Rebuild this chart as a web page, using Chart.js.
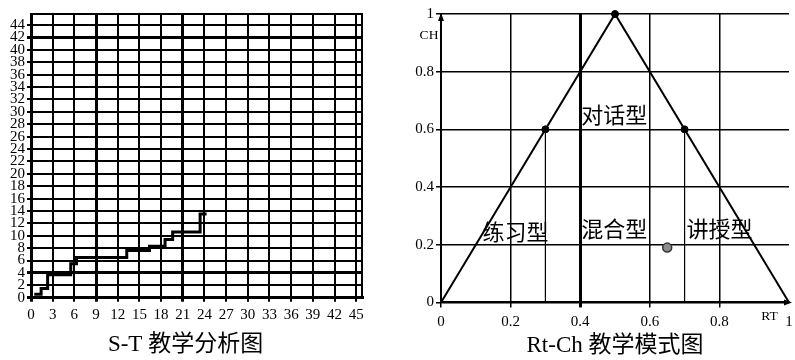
<!DOCTYPE html>
<html><head><meta charset="utf-8">
<script src="https://cdn.jsdelivr.net/npm/chart.js@4/dist/chart.umd.min.js"></script>
<style>
html,body{margin:0;padding:0;background:#fff;}
#wrap{position:relative;width:795px;height:360px;overflow:hidden;}
#c1{position:absolute;left:0;top:0;}
#c2{position:absolute;left:395px;top:0;}
</style></head><body>
<div id="wrap">
<canvas id="c1" width="395" height="360"></canvas>
<canvas id="c2" width="400" height="360"></canvas>
</div>
<script>
// ---- S-T chart data ----
const stT = [0.45, 1.4, 2.3, 5.5, 6.3, 13.25, 16.4, 18.55, 19.6, 23.4, 24.3];
const stS = [0.55, 1.5, 3.7, 5.5, 6.5, 7.6, 8.3, 9.4, 10.6, 13.5, 13.5];
const stXTicks = [0, 3, 6, 9, 12, 15, 18, 21, 24, 27, 30, 33, 36, 39, 42, 45];
const stYTicks = [0, 2, 4, 6, 8, 10, 12, 14, 16, 18, 20, 22, 24, 26, 28, 30, 32, 34, 36, 38, 40, 42, 44];
const stXThick = [0, 9, 21];
const stYThick = [0, 4, 42];
const stTitle = 'S-T 教学分析图';

// ---- Rt-Ch chart data ----
const triRt = [0, 0.5, 1];
const triCh = [0, 1, 0];
const vertRt = [0.3, 0.5, 0.7];
const vertCh = [0.6, 1, 0.6];
const dropRt = [0.3, 0.7];
const dropCh = [0.6, 0.6];
const obsRt = [0.65];
const obsCh = [0.19];
const rcTicks = [0, 0.2, 0.4, 0.6, 0.8, 1];
const modeNames = ['对话型', '练习型', '混合型', '讲授型'];
const modeRt = [0.498, 0.214, 0.498, 0.80];
const modeCh = [0.65, 0.245, 0.255, 0.255];
const rcTitle = 'Rt-Ch 教学模式图';

Chart.defaults.font.family = "'Liberation Serif','Noto Sans CJK SC',serif";
Chart.defaults.color = '#000';
Chart.defaults.animation = false;

const frame = {
  id: 'frame',
  beforeDatasetsDraw(chart) {
    const a = chart.chartArea, ctx = chart.ctx;
    ctx.save();
    ctx.strokeStyle = '#000';
    ctx.lineWidth = 2;
    ctx.strokeRect(a.left, a.top, a.right - a.left, a.bottom - a.top);
    ctx.restore();
  }
};

new Chart(document.getElementById('c1'), {
  type: 'line',
  data: {
    datasets: [{
      data: stT.map((x, i) => ({x, y: stS[i]})),
      stepped: 'before',
      borderColor: '#000',
      borderWidth: 3,
      pointRadius: 0,
      fill: false
    }]
  },
  options: {
    responsive: false,
    devicePixelRatio: 1,
    layout: {padding: {left: 9, top: 14, right: 33, bottom: 1.7}},
    plugins: {
      legend: {display: false},
      tooltip: {enabled: false},
      title: {display: true, text: stTitle, position: 'bottom', color: '#000',
        font: {size: 23, weight: 'normal', lineHeight: 1.2}, padding: 0}
    },
    scales: {
      x: {
        type: 'linear', min: 0, max: 45.8,
        afterBuildTicks: s => { s.ticks = stXTicks.map(v => ({value: v})); },
        afterFit: s => { s.height = 33; },
        ticks: {autoSkip: false, maxRotation: 0, padding: 4, font: {size: 15}, color: '#000'},
        grid: {color: '#000', tickLength: 4,
          lineWidth: c => (c.tick && stXThick.includes(c.tick.value)) ? 3 : 2},
        border: {display: true, color: '#000', width: 3}
      },
      y: {
        type: 'linear', min: 0, max: 45.8,
        afterBuildTicks: s => { s.ticks = stYTicks.map(v => ({value: v})); },
        afterFit: s => { s.width = 22; },
        ticks: {autoSkip: false, padding: 2, font: {size: 15}, color: '#000'},
        grid: {color: '#000', tickLength: 4,
          lineWidth: c => (c.tick && stYThick.includes(c.tick.value)) ? 3 : 2},
        border: {display: true, color: '#000', width: 3}
      }
    }
  },
  plugins: [frame]
});

const rcDeco = {
  id: 'rcDeco',
  afterDraw(chart) {
    const ctx = chart.ctx, a = chart.chartArea;
    const xs = chart.scales.x, ys = chart.scales.y;
    ctx.save();
    ctx.fillStyle = '#000';
    // arrows
    const x0 = xs.getPixelForValue(0), y1 = ys.getPixelForValue(1);
    ctx.beginPath();
    ctx.moveTo(x0, y1 - 1); ctx.lineTo(x0 - 3, y1 + 7); ctx.lineTo(x0 + 3, y1 + 7); ctx.closePath(); ctx.fill();
    const xe = xs.getPixelForValue(1), y0 = ys.getPixelForValue(0);
    ctx.beginPath();
    ctx.moveTo(xe + 3, y0); ctx.lineTo(xe - 5, y0 - 3); ctx.lineTo(xe - 5, y0 + 3); ctx.closePath(); ctx.fill();
    // axis names
    ctx.font = "13.5px 'Liberation Serif'";
    ctx.textAlign = 'center'; ctx.textBaseline = 'middle';
    ctx.fillText('CH', a.left - 12, a.top + 21);
    ctx.fillText('RT', a.right - 19.5, a.bottom + 14);
    // region names
    ctx.font = "22px 'Noto Sans CJK SC'";
    modeNames.forEach((n, i) => {
      ctx.fillText(n, xs.getPixelForValue(modeRt[i]), ys.getPixelForValue(modeCh[i]));
    });
    ctx.restore();
  }
};

const rcDatasets = [
  {data: triRt.map((x, i) => ({x, y: triCh[i]})), borderColor: '#000', borderWidth: 2, pointRadius: 0, showLine: true, clip: false},
];
dropRt.forEach((x, i) => rcDatasets.push({
  data: [{x, y: 0}, {x, y: dropCh[i]}], borderColor: '#000', borderWidth: 1.2, pointRadius: 0, showLine: true
}));
rcDatasets.push({data: vertRt.map((x, i) => ({x, y: vertCh[i]})), showLine: false,
  pointRadius: 3.5, pointBackgroundColor: '#000', pointBorderColor: '#000', clip: false});
rcDatasets.push({data: obsRt.map((x, i) => ({x, y: obsCh[i]})), showLine: false,
  pointRadius: 4.5, pointBackgroundColor: '#8c8c8c', pointBorderColor: '#333', pointBorderWidth: 1.5, clip: false});

const fmt = v => String(Math.round(v * 10) / 10);

new Chart(document.getElementById('c2'), {
  type: 'scatter',
  data: {datasets: rcDatasets},
  options: {
    responsive: false,
    devicePixelRatio: 1,
    layout: {padding: {left: 6, top: 14, right: 4.5, bottom: 0}},
    plugins: {
      legend: {display: false},
      tooltip: {enabled: false},
      title: {display: true, text: rcTitle, position: 'bottom', color: '#000', fullSize: false,
        font: {size: 23, weight: 'normal', lineHeight: 1.2}, padding: 0}
    },
    scales: {
      x: {
        type: 'linear', min: 0, max: 1,
        afterBuildTicks: s => { s.ticks = rcTicks.map(v => ({value: v})); },
        afterFit: s => { s.height = 30; },
        ticks: {autoSkip: false, maxRotation: 0, padding: 0, font: {size: 15, lineHeight: 1.9}, color: '#000', callback: fmt},
        grid: {tickLength: 5,
          color: c => (c.tick && c.tick.value === 1) ? 'rgba(0,0,0,0)' : '#000',
          lineWidth: c => (c.tick && c.tick.value === 0.4) ? 3 : 1.5},
        border: {display: true, color: '#000', width: 2}
      },
      y: {
        type: 'linear', min: 0, max: 1,
        afterBuildTicks: s => { s.ticks = rcTicks.map(v => ({value: v})); },
        afterFit: s => { s.width = 40; },
        ticks: {autoSkip: false, padding: 2, font: {size: 15}, color: '#000', callback: fmt},
        grid: {color: '#000', tickLength: 5, lineWidth: 1.5},
        border: {display: true, color: '#000', width: 2}
      }
    }
  },
  plugins: [rcDeco]
});
</script>
</body></html>
